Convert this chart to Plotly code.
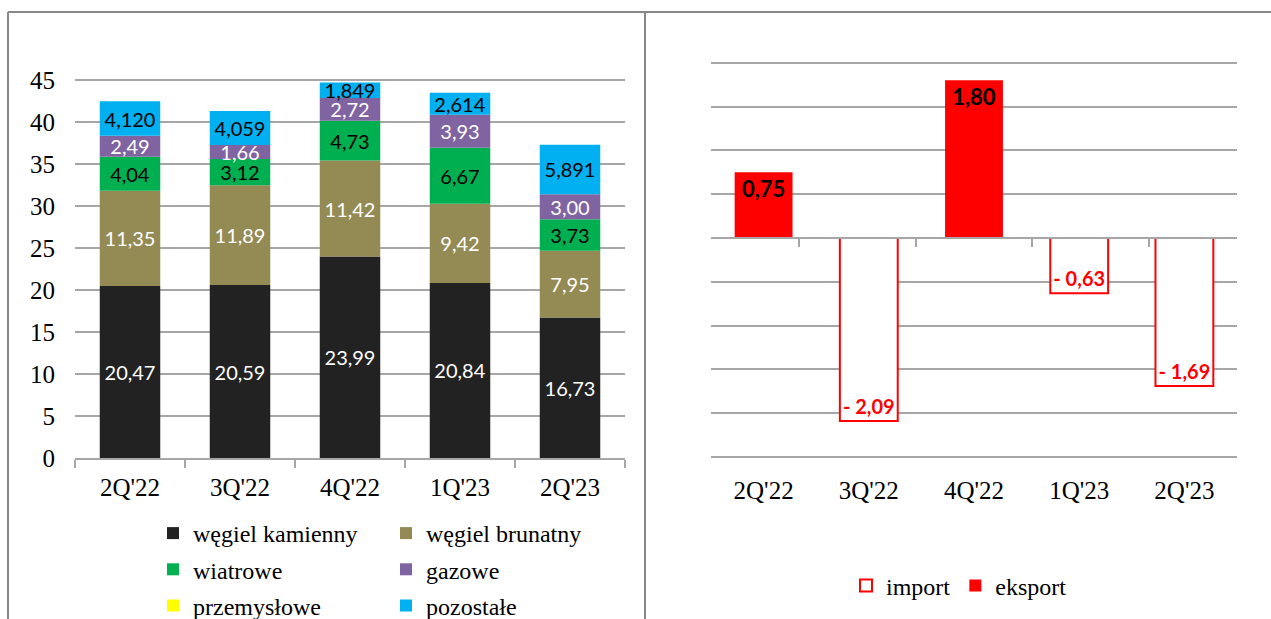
import plotly.graph_objects as go

W, H = 1271, 619

quarters = ["2Q'22", "3Q'22", "4Q'22", "1Q'23", "2Q'23"]

wegiel_kamienny = [20.47, 20.59, 23.99, 20.84, 16.73]
wegiel_brunatny = [11.35, 11.89, 11.42, 9.42, 7.95]
wiatrowe = [4.04, 3.12, 4.73, 6.67, 3.73]
gazowe = [2.49, 1.66, 2.72, 3.93, 3.00]
przemyslowe = [0, 0, 0, 0, 0]
pozostale = [4.120, 4.059, 1.849, 2.614, 5.891]

import_vals = [0, -2.09, 0, -0.63, -1.69]
eksport_vals = [0.75, 0, 1.80, 0, 0]

SERIF = "Liberation Serif, DejaVu Serif, serif"
SANS = "Lato, Open Sans, sans-serif"
GRID = "#a6a6a6"


def px_x(p):
    return p / W


def px_y(p):
    return 1 - p / H


fig = go.Figure()

# left chart: stacked production by fuel
left_series = [
    ("węgiel kamienny", wegiel_kamienny, "#222222", "white", ".2f", "legend"),
    ("węgiel brunatny", wegiel_brunatny, "#948a54", "white", ".2f", "legend3"),
    ("wiatrowe", wiatrowe, "#00b050", "black", ".2f", "legend"),
    ("gazowe", gazowe, "#8064a2", "white", ".2f", "legend3"),
    ("przemysłowe", przemyslowe, "#ffff00", "black", ".2f", "legend"),
    ("pozostałe", pozostale, "#00b0f0", "black", ".3f", "legend3"),
]
for name, vals, color, tcolor, fmt, leg in left_series:
    show_text = any(v > 0 for v in vals)
    fig.add_trace(
        go.Bar(
            x=quarters,
            y=vals,
            name=name,
            marker=dict(color=color, line=dict(width=0)),
            texttemplate="%{y:" + fmt + "}" if show_text else None,
            textposition="inside" if show_text else "none",
            insidetextanchor="middle",
            textangle=0,
            constraintext="none",
            textfont=dict(family=SANS, size=20, color=tcolor),
            legend=leg,
            legendgroup=name,
            xaxis="x",
            yaxis="y",
            hoverinfo="skip",
        )
    )

# right chart: balance of trade
imp_text = [("- " + f"{abs(v):.2f}".replace(".", ",")) if v else "" for v in import_vals]
eks_text = [f"{v:.2f}".replace(".", ",") if v else "" for v in eksport_vals]

fig.add_trace(
    go.Bar(
        x=quarters,
        y=[v if v else None for v in import_vals],
        name="import",
        marker=dict(color="white", line=dict(color="#ff0000", width=2)),
        text=imp_text,
        textposition="inside",
        insidetextanchor="end",
        textangle=0,
        constraintext="none",
        textfont=dict(family=SANS, size=20, color="#ff0000", weight="bold"),
        legend="legend2",
        xaxis="x2",
        yaxis="y2",
        hoverinfo="skip",
    )
)
fig.add_trace(
    go.Bar(
        x=quarters,
        y=[v if v else None for v in eksport_vals],
        name="eksport",
        marker=dict(color="#ff0000", line=dict(width=0)),
        text=eks_text,
        textposition="inside",
        insidetextanchor="end",
        textangle=0,
        constraintext="none",
        textfont=dict(family=SANS, size=22, color="black", weight="bold"),
        legend="legend2",
        xaxis="x2",
        yaxis="y2",
        hoverinfo="skip",
    )
)
# helper so the zero axis (with boundary ticks) renders
fig.add_trace(
    go.Scatter(
        x=quarters,
        y=[0] * len(quarters),
        mode="markers",
        marker=dict(opacity=0),
        showlegend=False,
        hoverinfo="skip",
        xaxis="x3",
        yaxis="y2",
    )
)

left_dom = [px_x(75), px_x(625)]
right_dom = [px_x(711), px_x(1237)]

legend_common = dict(
    xanchor="left",
    orientation="v",
    traceorder="grouped",
    tracegroupgap=2,
    font=dict(family=SERIF, size=24, color="black"),
    bgcolor="rgba(0,0,0,0)",
    itemwidth=30,
)

fig.update_layout(
    width=W,
    height=H,
    margin=dict(l=0, r=0, t=0, b=0, autoexpand=False),
    paper_bgcolor="white",
    plot_bgcolor="white",
    barmode="relative",
    bargap=0.45,
    separators=", ",
    showlegend=True,
    xaxis=dict(
        domain=left_dom,
        anchor="y",
        type="category",
        showline=True,
        linecolor=GRID,
        linewidth=2,
        ticks="outside",
        tickson="boundaries",
        ticklen=8,
        tickwidth=2,
        tickcolor=GRID,
        tickfont=dict(family=SERIF, size=25, color="black"),
        ticklabelstandoff=6,
    ),
    yaxis=dict(
        domain=[px_y(458), px_y(458 - 45.3 * 8.4)],
        anchor="x",
        range=[0, 45.3],
        dtick=5,
        tick0=0,
        showgrid=True,
        gridcolor=GRID,
        gridwidth=2,
        zeroline=False,
        showline=False,
        ticks="",
        tickfont=dict(family=SERIF, size=25, color="black"),
        ticklabelstandoff=19,
    ),
    xaxis2=dict(
        domain=right_dom,
        anchor="y2",
        type="category",
        showline=False,
        ticks="",
        tickfont=dict(family=SERIF, size=25, color="black"),
        ticklabelstandoff=14,
    ),
    yaxis2=dict(
        domain=[px_y(238 + 2.52 * 87.6), px_y(238 - 2.02 * 87.6)],
        anchor="x2",
        range=[-2.52, 2.02],
        dtick=0.5,
        tick0=0,
        showgrid=True,
        gridcolor=GRID,
        gridwidth=2,
        zeroline=False,
        showticklabels=False,
        ticks="",
    ),
    xaxis3=dict(
        domain=right_dom,
        overlaying="x2",
        anchor="free",
        position=px_y(238),
        type="category",
        showline=True,
        linecolor=GRID,
        linewidth=2,
        ticks="outside",
        tickson="boundaries",
        ticklen=8,
        tickwidth=2,
        tickcolor=GRID,
        showticklabels=False,
        showgrid=False,
    ),
    legend=dict(x=px_x(153), y=px_y(511), yanchor="top", **legend_common),
    legend3=dict(x=px_x(386), y=px_y(511), yanchor="top", **legend_common),
    legend2=dict(
        x=px_x(846),
        y=px_y(586),
        xanchor="left",
        yanchor="middle",
        orientation="h",
        font=dict(family=SERIF, size=24, color="black"),
        bgcolor="rgba(0,0,0,0)",
        itemwidth=30,
    ),
)

# panel frames
frame = dict(type="line", xref="paper", yref="paper", line=dict(color="#888888", width=2))
fig.add_shape(x0=px_x(8), x1=1, y0=px_y(12), y1=px_y(12), **frame)
fig.add_shape(x0=px_x(8), x1=px_x(8), y0=px_y(12), y1=0, **frame)
fig.add_shape(x0=px_x(645), x1=px_x(645), y0=px_y(12), y1=0, **frame)

fig.write_html(
    "out.html",
    config={"displayModeBar": False},
    post_script="document.body.style.margin='0';",
)
